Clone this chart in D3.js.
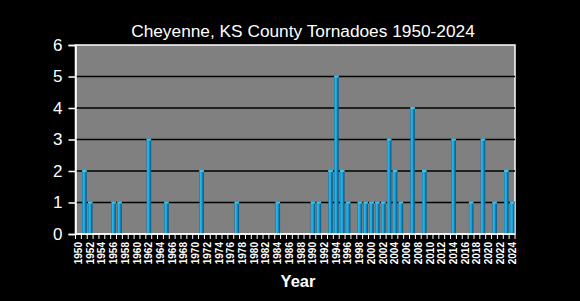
<!DOCTYPE html>
<meta charset="utf-8">
<script src="https://d3js.org/d3.v7.min.js"></script>
<style>
body { margin: 0; background: #000; }
svg text { font-family: "Liberation Sans", Arial, sans-serif; fill: #fff; }
</style>
<div id="chart"></div>
<script>
// data
var years = d3.range(1950, 2025);
var tornadoYears = [1951, 1952, 1956, 1957, 1962, 1965, 1971, 1977, 1984, 1990, 1991, 1993, 1994, 1995, 1996,
  1998, 1999, 2000, 2001, 2002, 2003, 2004, 2005, 2007, 2009, 2014, 2017, 2019, 2021, 2023, 2024];
var tornadoCounts = [2, 1, 1, 1, 3, 1, 2, 1, 1, 1, 1, 2, 5, 2, 1,
  1, 1, 1, 1, 1, 3, 2, 1, 4, 2, 3, 1, 3, 1, 2, 1];
var yTicks = [0, 1, 2, 3, 4, 5, 6];

var counts = {};
tornadoYears.forEach(function(y, i) { counts[y] = tornadoCounts[i]; });
var data = years.map(function(y) { return {year: y, n: counts[y] || 0}; });

var margin = {top: 45, right: 65, bottom: 67, left: 75.5},
  width = 580 - margin.left - margin.right,
  height = 301 - margin.top - margin.bottom;

var svg = d3.select("#chart").append("svg")
  .attr("width", 580).attr("height", 301);

var defs = svg.append("defs");
var grad = defs.append("linearGradient").attr("id", "bar");
grad.append("stop").attr("offset", "0%").attr("stop-color", "#0a73a3");
grad.append("stop").attr("offset", "22%").attr("stop-color", "#2cb6ea");
grad.append("stop").attr("offset", "55%").attr("stop-color", "#1b9fd6");
grad.append("stop").attr("offset", "72%").attr("stop-color", "#0c78ac");
grad.append("stop").attr("offset", "100%").attr("stop-color", "#065a85");

var g = svg.append("g")
  .attr("transform", "translate(" + margin.left + "," + margin.top + ")");

var x = d3.scaleBand().domain(years).range([0, width]).paddingInner(0.22).paddingOuter(0.11).align(0.6);
var y = d3.scaleLinear().domain([0, 6]).range([height, 0]);

// plot background
g.append("rect").attr("width", width).attr("height", height)
  .attr("fill", "#808080").attr("stroke", "#fff").attr("stroke-width", 1.5);

// gridlines
g.selectAll(".grid").data(yTicks.filter(function(d) { return d > 0 && d < 6; }))
  .enter().append("line")
  .attr("x1", 0).attr("x2", width)
  .attr("y1", function(d) { return y(d); }).attr("y2", function(d) { return y(d); })
  .attr("stroke", "#000").attr("stroke-width", 1.5);

// bars
var bars = g.selectAll(".bar").data(data.filter(function(d) { return d.n > 0; }))
  .enter().append("g");
bars.append("rect")
  .attr("x", function(d) { return x(d.year); })
  .attr("y", function(d) { return y(d.n); })
  .attr("width", x.bandwidth())
  .attr("height", function(d) { return height - y(d.n); })
  .attr("fill", "url(#bar)");
bars.append("rect")
  .attr("x", function(d) { return x(d.year); })
  .attr("y", function(d) { return y(d.n) - 1; })
  .attr("width", x.bandwidth())
  .attr("height", 2)
  .attr("fill", "#3cc4f0");

// y axis
var yAxis = g.append("g").call(d3.axisLeft(y).tickValues(yTicks).tickSize(7).tickPadding(6).tickFormat(d3.format("d")));
yAxis.select(".domain").attr("stroke", "#fff").attr("stroke-width", 1.5);
yAxis.selectAll(".tick line").attr("stroke", "#fff").attr("stroke-width", 1.5);
yAxis.selectAll("text").style("font-size", "17px").attr("fill", "#fff");

// x axis: ticks on category boundaries, labels every other year
var xAxis = g.append("g").attr("transform", "translate(0," + height + ")");
xAxis.append("line").attr("x1", 0).attr("x2", width).attr("stroke", "#fff").attr("stroke-width", 1.5);
var step = width / years.length;
xAxis.selectAll(".tk").data(d3.range(years.length + 1)).enter().append("line")
  .attr("x1", function(i) { return i * step; }).attr("x2", function(i) { return i * step; })
  .attr("y1", 0).attr("y2", 5).attr("stroke", "#fff").attr("stroke-width", 1);
xAxis.selectAll(".lbl").data(years.filter(function(d) { return (d - 1950) % 2 === 0; }))
  .enter().append("text")
  .attr("transform", function(d) {
    return "translate(" + ((years.indexOf(d) + 0.5) * step + 3.5) + ",8) rotate(-90)";
  })
  .attr("text-anchor", "end")
  .style("font-size", "10px").style("font-weight", "bold")
  .text(function(d) { return d; });

// titles
svg.append("text").attr("x", 303).attr("y", 37).attr("text-anchor", "middle")
  .style("font-size", "17.3px").text("Cheyenne, KS County Tornadoes 1950-2024");
svg.append("text").attr("x", 298).attr("y", 287).attr("text-anchor", "middle")
  .style("font-size", "16.5px").style("font-weight", "bold").text("Year");
</script>
